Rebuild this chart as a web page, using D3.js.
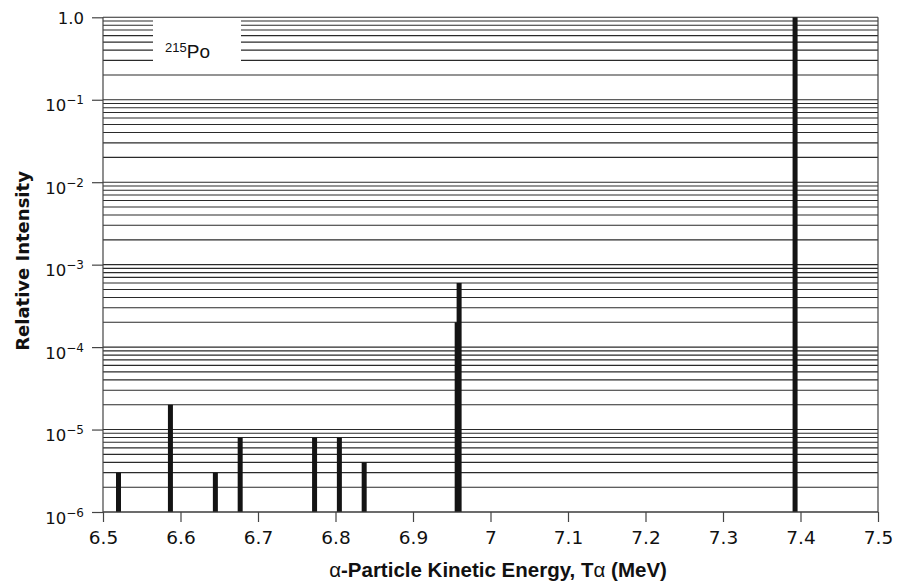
<!DOCTYPE html>
<html>
<head>
<meta charset="utf-8">
<script src="https://cdn.jsdelivr.net/npm/d3@7"></script>
<style>
  body { margin: 0; background: #fff; }
  svg { display: block; }
</style>
</head>
<body>
<svg id="chart"></svg>
<script>
const width = 902;
const height = 584;

// alpha lines of 215Po
const energies = [6.520, 6.587, 6.645, 6.677, 6.773, 6.805, 6.837, 6.957, 6.9595, 7.393];
const intensities = [3e-6, 2e-5, 3e-6, 8e-6, 8e-6, 8e-6, 4e-6, 2e-4, 6e-4, 1.0];

const xTickValues = [6.5, 6.6, 6.7, 6.8, 6.9, 7.0, 7.1, 7.2, 7.3, 7.4, 7.5];
const xTickLabels = ["6.5", "6.6", "6.7", "6.8", "6.9", "7", "7.1", "7.2", "7.3", "7.4", "7.5"];
const yTickValues = [1, 1e-1, 1e-2, 1e-3, 1e-4, 1e-5, 1e-6];
const yTickExps = [null, "\u22121", "\u22122", "\u22123", "\u22124", "\u22125", "\u22126"];

const pLeft = 103, pRight = 878, pTop = 17.3, pBottom = 512;

const svg = d3.select("#chart")
  .attr("width", width)
  .attr("height", height);

const x = d3.scaleLinear().domain([6.5, 7.5]).range([pLeft, pRight]);
const y = d3.scaleLog().domain([1e-6, 1]).range([pBottom, pTop]);

// grid lines at every 1..9 x 10^k
const gridValues = [];
for (let k = -6; k <= -1; k++) {
  for (let m = 1; m <= 9; m++) gridValues.push(m * Math.pow(10, k));
}
gridValues.push(1);

svg.append("g")
  .selectAll("line")
  .data(gridValues)
  .join("line")
  .attr("x1", pLeft)
  .attr("x2", pRight)
  .attr("y1", d => y(d))
  .attr("y2", d => y(d))
  .attr("stroke", "#2a2a2a")
  .attr("stroke-width", 1.1);

// legend box over the grid
svg.append("rect")
  .attr("x", 153)
  .attr("y", 19.5)
  .attr("width", 88)
  .attr("height", 43)
  .attr("fill", "#fff");

const label = svg.append("text")
  .attr("x", 165)
  .attr("y", 58)
  .attr("font-family", "Liberation Sans, Arial, sans-serif")
  .attr("fill", "#111");
label.append("tspan").attr("font-size", 13).attr("dy", -6).text("215");
label.append("tspan").attr("font-size", 19).attr("dy", 6).text("Po");

// bars
svg.append("g")
  .selectAll("rect")
  .data(energies.map((e, i) => ({e, v: intensities[i]})))
  .join("rect")
  .attr("x", d => x(d.e) - 2.5)
  .attr("width", 5)
  .attr("y", d => y(d.v))
  .attr("height", d => pBottom - y(d.v))
  .attr("fill", "#141414");

// frame
const frame = svg.append("g").attr("stroke", "#444").attr("stroke-width", 1.2);
frame.append("line").attr("x1", pLeft).attr("x2", pLeft).attr("y1", pTop).attr("y2", pBottom);
frame.append("line").attr("x1", pRight).attr("x2", pRight).attr("y1", pTop).attr("y2", pBottom);
frame.append("line").attr("x1", pLeft).attr("x2", pRight).attr("y1", pBottom).attr("y2", pBottom);

// x axis
const xAxis = svg.append("g")
  .attr("transform", `translate(0,${pBottom})`)
  .call(d3.axisBottom(x)
    .tickValues(xTickValues)
    .tickFormat((d, i) => xTickLabels[i])
    .tickSize(10)
    .tickPadding(9));
xAxis.select(".domain").remove();
xAxis.selectAll(".tick line").attr("stroke", "#444").attr("stroke-width", 1.2);
xAxis.selectAll(".tick text")
  .attr("font-family", "DejaVu Sans, sans-serif")
  .attr("font-size", 18.5)
  .attr("fill", "#111");

// y axis
const yAxis = svg.append("g")
  .attr("transform", `translate(${pLeft},0)`)
  .call(d3.axisLeft(y)
    .tickValues(yTickValues)
    .tickFormat("")
    .tickSize(11));
yAxis.select(".domain").remove();
yAxis.selectAll(".tick line").attr("stroke", "#444").attr("stroke-width", 1.2);

yTickValues.forEach((v, i) => {
  const t = svg.append("text")
    .attr("x", 84)
    .attr("text-anchor", "end")
    .attr("font-family", "DejaVu Sans, sans-serif")
    .attr("fill", "#111");
  if (yTickExps[i] === null) {
    t.attr("y", y(v) + 6.5).attr("font-size", 16.5).text("1.0");
  } else {
    t.attr("y", y(v) + 11.5);
    t.append("tspan").attr("font-size", 16.5).text("10");
    t.append("tspan").attr("font-size", 12).attr("dy", -7).text(yTickExps[i]);
  }
});

// axis titles
svg.append("text")
  .attr("transform", "translate(29,261) rotate(-90)")
  .attr("text-anchor", "middle")
  .attr("font-family", "DejaVu Sans, sans-serif")
  .attr("font-weight", "bold")
  .attr("font-size", 18)
  .attr("fill", "#111")
  .text("Relative Intensity");

const xt = svg.append("text")
  .attr("x", 498)
  .attr("y", 577)
  .attr("text-anchor", "middle")
  .attr("font-family", "Liberation Sans, Arial, sans-serif")
  .attr("font-size", 20.5)
  .attr("font-weight", "bold")
  .attr("fill", "#111");
xt.append("tspan").attr("font-weight", "normal").text("\u03b1");
xt.append("tspan").text("-Particle Kinetic Energy, T");
xt.append("tspan").attr("font-weight", "normal").text("\u03b1");
xt.append("tspan").text(" (MeV)");
</script>
</body>
</html>
